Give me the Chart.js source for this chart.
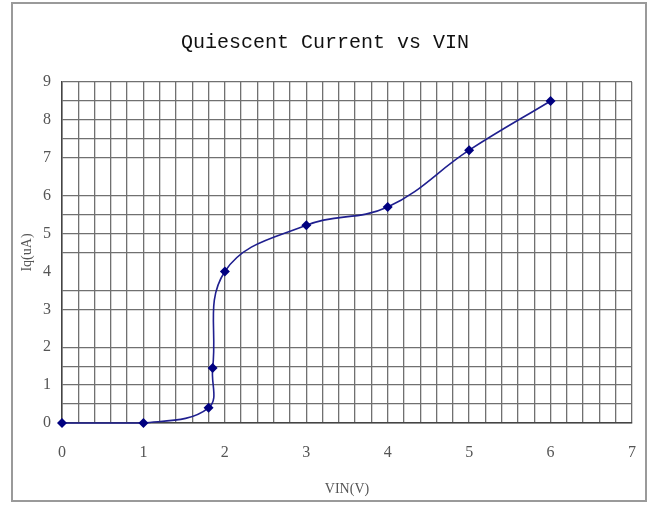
<!DOCTYPE html>
<html lang="en">
<head>
<meta charset="UTF-8">
<title>Quiescent Current vs VIN</title>
<script src="https://cdn.jsdelivr.net/npm/chart.js@4.4.0/dist/chart.umd.min.js"></script>
<style>
body { margin: 0; background: #fff; }
.wrap { position: relative; width: 651px; height: 506px; }
.frame {
  position: absolute; left: 11px; top: 2px; width: 632px; height: 496px;
  border: 2px solid #9a9a9a; pointer-events: none;
}
</style>
</head>
<body>
<div class="wrap">
  <canvas id="chart" width="651" height="506"></canvas>
  <div class="frame"></div>
</div>
<script>
const vin = [0, 1, 1.8, 1.85, 2, 3, 4, 5, 6]
const iq = [0, 0, 0.4, 1.45, 4.0, 5.22, 5.7, 7.2, 8.5]
// half-unit rows that the original grid leaves out
const missingRows = [6.5, 4, 2.5]

const points = vin.map((v, i) => ({ x: v, y: iq[i] }))

const isWhole = v => Math.abs(v - Math.round(v)) < 1e-6
const gridGray = '#707070'
const labelFont = { family: "'Liberation Serif', serif", size: 16 }

new Chart(document.getElementById('chart'), {
  type: 'line',
  data: {
    datasets: [{
      data: points,
      borderColor: '#1f1f8f',
      borderWidth: 1.6,
      backgroundColor: '#000080',
      pointStyle: 'rectRot',
      pointRadius: 5,
      pointBorderWidth: 0,
      tension: 0.4,
      clip: false,
      fill: false
    }]
  },
  options: {
    animation: false,
    responsive: false,
    layout: { padding: { left: 18, right: 19, top: 0, bottom: 0 } },
    plugins: {
      legend: { display: false },
      tooltip: { enabled: false },
      title: {
        display: true,
        text: 'Quiescent Current vs VIN',
        color: '#111',
        font: { family: "'Liberation Mono', monospace", size: 20, weight: 'normal' },
        padding: { top: 31, bottom: 27 }
      }
    },
    scales: {
      x: {
        type: 'linear',
        min: 0,
        max: 7,
        ticks: {
          stepSize: 0.2,
          autoSkip: false,
          maxRotation: 0,
          padding: 0,
          color: '#555',
          font: labelFont,
          callback: v => isWhole(v) ? Math.round(v) : ''
        },
        // invisible tick marks push the labels down without widening the side padding
        grid: { color: gridGray, lineWidth: 1.3, drawTicks: true, tickLength: 20, tickColor: 'rgba(0,0,0,0)' },
        border: { color: '#444', width: 1.5 },
        title: {
          display: true,
          text: 'VIN(V)',
          color: '#555',
          font: { family: "'Liberation Serif', serif", size: 14 },
          padding: { top: 0, bottom: 8 }
        },
        afterFit: s => { s.height = 83 }
      },
      y: {
        min: 0,
        max: 9,
        ticks: {
          stepSize: 0.5,
          autoSkip: false,
          padding: 11,
          color: '#555',
          font: labelFont,
          callback: v => isWhole(v) ? Math.round(v) : ''
        },
        grid: {
          color: c => missingRows.includes(c.tick.value) ? 'rgba(0,0,0,0)' : gridGray,
          lineWidth: 1.3,
          drawTicks: false
        },
        border: { color: '#444', width: 1.5 },
        title: {
          display: true,
          text: 'Iq(uA)',
          color: '#555',
          font: { family: "'Liberation Serif', serif", size: 14 },
          padding: { top: 1, bottom: 0 }
        },
        afterFit: s => { s.width = 44 }
      }
    }
  }
})
</script>
</body>
</html>
